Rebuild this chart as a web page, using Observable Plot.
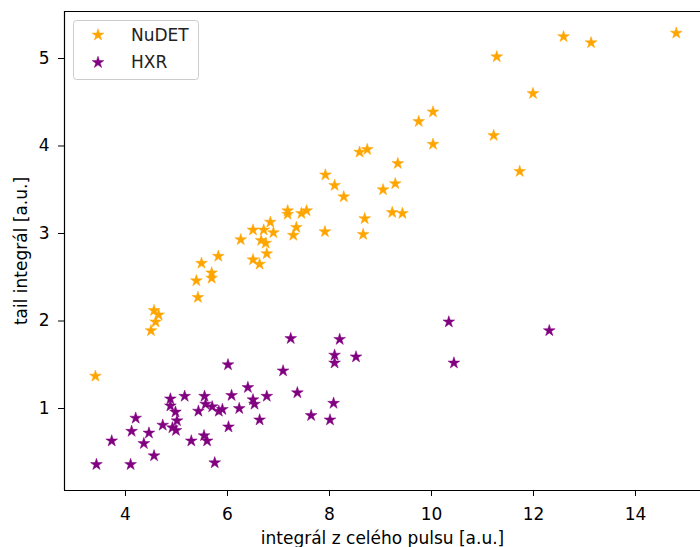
<!DOCTYPE html>
<html><head><meta charset="utf-8">
<script src="https://cdn.jsdelivr.net/npm/d3@7"></script>
<script src="https://cdn.jsdelivr.net/npm/@observablehq/plot@0.6"></script>
<style>body{margin:0;background:#fff} #chart{width:700px;height:547px}</style>
</head><body><div id="chart"></div>
<script>
const seriesNames = ["NuDET", "HXR"];
const seriesColors = ["orange", "purple"];
const nudetX = [3.41,4.50,4.56,4.65,4.59,5.42,5.39,5.69,5.69,5.49,5.82,6.26,6.50,6.50,6.63,6.66,6.75,6.77,6.71,6.84,6.90,7.18,7.18,7.45,7.55,7.35,7.29,7.91,7.92,8.10,8.28,8.59,8.74,8.69,8.66,9.05,9.29,9.34,9.23,9.43,9.75,10.03,10.03,11.22,11.28,11.73,11.99,12.59,13.13,14.80];
const nudetY = [1.37,1.89,2.12,2.07,1.99,2.27,2.46,2.55,2.49,2.66,2.74,2.93,3.04,2.70,2.65,2.92,2.89,2.77,3.04,3.13,3.01,3.26,3.22,3.23,3.26,3.07,2.98,3.02,3.67,3.55,3.42,3.93,3.96,3.17,2.99,3.50,3.57,3.80,3.24,3.23,4.28,4.39,4.02,4.12,5.02,3.71,4.60,5.25,5.18,5.29];
const hxrX = [3.43,4.10,3.73,4.12,4.20,4.46,4.36,4.56,4.73,4.88,4.88,5.16,4.98,5.01,4.92,4.99,5.29,5.55,5.43,5.57,5.70,5.83,5.90,5.54,5.60,5.75,6.02,6.01,6.08,6.23,6.40,6.50,6.53,6.77,6.63,7.09,7.24,7.37,7.64,8.01,8.08,8.10,8.10,8.20,8.52,10.34,10.44,12.31];
const hxrY = [0.36,0.36,0.63,0.74,0.89,0.72,0.60,0.46,0.81,1.11,1.03,1.14,0.96,0.86,0.78,0.75,0.63,1.14,0.97,1.05,1.02,0.97,0.99,0.69,0.63,0.38,0.79,1.50,1.15,1.00,1.24,1.10,1.05,1.14,0.87,1.43,1.80,1.18,0.92,0.87,1.06,1.61,1.52,1.79,1.59,1.99,1.52,1.89];
const xTicks = [4, 6, 8, 10, 12, 14];
const yTicks = [1, 2, 3, 4, 5];
const xDomain = [2.804, 15.275];
const yDomain = [0.063, 5.537];
const xLabel = "integrál z celého pulsu [a.u.]";
const yLabel = "tail integrál [a.u.]";

const data = [
  ...nudetX.map((x, i) => ({x, y: nudetY[i], s: seriesNames[0]})),
  ...hxrX.map((x, i) => ({x, y: hxrY[i], s: seriesNames[1]}))
];
const R = 3.7;

const plot = Plot.plot({
  width: 700, height: 547,
  marginLeft: 64, marginRight: 0, marginTop: 11, marginBottom: 57,
  style: {fontFamily: "DejaVu Sans", fontSize: "17px", color: "black", background: "white", overflow: "visible"},
  x: {domain: xDomain, ticks: xTicks, tickSize: 6, tickPadding: 11, tickFormat: d3.format("d"),
      label: xLabel, labelAnchor: "center", labelOffset: 53, labelArrow: "none"},
  y: {domain: yDomain, ticks: yTicks, tickSize: 6, tickPadding: 9, tickFormat: d3.format("d"),
      label: yLabel, labelAnchor: "center", labelOffset: 50, labelArrow: "none"},
  color: {domain: seriesNames, range: seriesColors},
  marks: [
    Plot.dot(data, {x: "x", y: "y", fill: "s", stroke: "s", strokeWidth: 0.5, symbol: "star", r: R}),
    Plot.ruleX([xDomain[0]], {stroke: "black", strokeWidth: 1.2}),
    Plot.ruleY([yDomain[0], yDomain[1]], {stroke: "black", strokeWidth: 1.2})
  ]
});
document.getElementById("chart").appendChild(plot);

// legend inside the plot area (upper left)
const svg = d3.select(plot);
const lg = svg.append("g").attr("font-family", "DejaVu Sans").attr("font-size", 17).attr("text-anchor", "start");
lg.append("rect").attr("x", 73.5).attr("y", 20.5).attr("width", 125).attr("height", 59).attr("rx", 3)
  .attr("fill", "white").attr("fill-opacity", 0.8).attr("stroke", "#cccccc");
const star = d3.symbol(d3.symbolStar, Math.PI * R * R);
seriesNames.forEach((name, i) => {
  const cy = 35 + i * 27.5;
  lg.append("path").attr("d", star()).attr("transform", `translate(98,${cy})`)
    .attr("fill", seriesColors[i]).attr("stroke", seriesColors[i]).attr("stroke-width", 0.5);
  lg.append("text").attr("x", 131).attr("y", cy).attr("dy", "0.35em").attr("text-anchor", "start")
    .attr("fill", "#222").text(name);
});
</script></body></html>
